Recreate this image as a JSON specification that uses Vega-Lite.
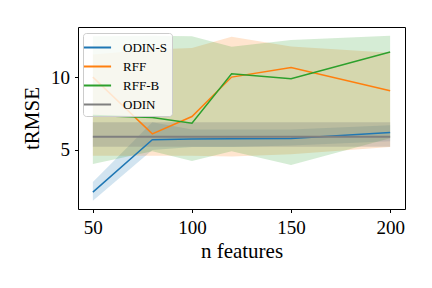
{
  "$schema": "https://vega.github.io/schema/vega-lite/v6.json",
  "width": 327,
  "height": 182,
  "autosize": "none",
  "padding": {"left": 78, "top": 27, "right": 27, "bottom": 79},
  "config": {
    "view": {"stroke": "#000000", "strokeWidth": 1},
    "font": "Liberation Serif",
    "axis": {
      "domain": false,
      "grid": false,
      "tickColor": "#000000",
      "tickSize": 3.5,
      "labelColor": "#000000",
      "titleColor": "#000000",
      "labelFont": "Liberation Serif",
      "titleFont": "Liberation Serif",
      "labelFontSize": 19,
      "titleFontSize": 21,
      "titleFontWeight": "normal"
    }
  },
  "data": {
    "values": [
      {"m": "ODIN-S", "x": 50, "mean": 2.1, "lo": 1.5, "hi": 2.8},
      {"m": "ODIN-S", "x": 80, "mean": 5.7, "lo": 5.0, "hi": 6.9},
      {"m": "ODIN-S", "x": 100, "mean": 5.75, "lo": 5.2, "hi": 6.4},
      {"m": "ODIN-S", "x": 120, "mean": 5.77, "lo": 5.2, "hi": 6.4},
      {"m": "ODIN-S", "x": 150, "mean": 5.78, "lo": 5.3, "hi": 6.4},
      {"m": "ODIN-S", "x": 200, "mean": 6.19, "lo": 5.6, "hi": 6.7},
      {"m": "RFF", "x": 50, "mean": 10.0, "lo": 4.6, "hi": 11.55},
      {"m": "RFF", "x": 80, "mean": 6.1, "lo": 4.6, "hi": 11.9},
      {"m": "RFF", "x": 100, "mean": 7.29, "lo": 4.6, "hi": 12.0},
      {"m": "RFF", "x": 120, "mean": 10.0, "lo": 4.55, "hi": 12.77},
      {"m": "RFF", "x": 150, "mean": 10.66, "lo": 4.7, "hi": 12.1},
      {"m": "RFF", "x": 200, "mean": 9.06, "lo": 5.2, "hi": 11.67},
      {"m": "RFF-B", "x": 50, "mean": 7.36, "lo": 4.03, "hi": 12.8},
      {"m": "RFF-B", "x": 80, "mean": 7.22, "lo": 4.9, "hi": 12.84},
      {"m": "RFF-B", "x": 100, "mean": 6.83, "lo": 4.24, "hi": 12.8},
      {"m": "RFF-B", "x": 120, "mean": 10.23, "lo": 4.9, "hi": 12.08},
      {"m": "RFF-B", "x": 150, "mean": 9.88, "lo": 3.96, "hi": 12.55},
      {"m": "RFF-B", "x": 200, "mean": 11.72, "lo": 5.8, "hi": 12.84},
      {"m": "ODIN", "x": 50, "mean": 5.91, "lo": 5.22, "hi": 6.9},
      {"m": "ODIN", "x": 200, "mean": 5.91, "lo": 5.22, "hi": 6.9}
    ]
  },
  "encoding": {
    "x": {
      "field": "x",
      "type": "quantitative",
      "scale": {"domain": [42.5, 207.5], "nice": false, "zero": false},
      "axis": {"values": [50, 100, 150, 200], "title": "n features", "labelPadding": 6, "titlePadding": 3}
    },
    "color": {
      "field": "m",
      "type": "nominal",
      "scale": {"domain": ["ODIN-S", "RFF", "RFF-B", "ODIN"], "range": ["#1f77b4", "#ff7f0e", "#2ca02c", "#7f7f7f"]},
      "legend": {
        "title": null,
        "orient": "none",
        "legendX": 5,
        "legendY": 6,
        "symbolType": "M-1.45,0H1.45",
        "symbolSize": 350,
        "symbolStrokeWidth": 2,
        "symbolOpacity": 1,
        "labelFont": "Liberation Serif",
        "labelFontSize": 13,
        "labelColor": "#000000",
        "labelOffset": 15,
        "fillColor": "rgba(255,255,255,0.8)",
        "strokeColor": "#cccccc",
        "cornerRadius": 3,
        "padding": 4,
        "rowPadding": 1
      }
    }
  },
  "layer": [
    {
      "transform": [{"filter": "datum.m !== 'ODIN'"}],
      "mark": {"type": "area", "opacity": 0.2},
      "encoding": {
        "y": {"field": "lo", "type": "quantitative", "scale": {"domain": [0.94, 13.44], "nice": false, "zero": false}, "axis": {"values": [5, 10], "title": "tRMSE", "labelPadding": 5, "titlePadding": 8}},
        "y2": {"field": "hi"}
      }
    },
    {
      "transform": [{"filter": "datum.m === 'ODIN'"}],
      "mark": {"type": "area", "opacity": 0.3},
      "encoding": {
        "y": {"field": "lo", "type": "quantitative"},
        "y2": {"field": "hi"}
      }
    },
    {
      "transform": [{"filter": "datum.m !== 'ODIN'"}],
      "mark": {"type": "line", "strokeWidth": 1.5},
      "encoding": {
        "y": {"field": "mean", "type": "quantitative"}
      }
    },
    {
      "transform": [{"filter": "datum.m === 'ODIN'"}],
      "mark": {"type": "line", "strokeWidth": 2},
      "encoding": {
        "y": {"field": "mean", "type": "quantitative"}
      }
    }
  ]
}
